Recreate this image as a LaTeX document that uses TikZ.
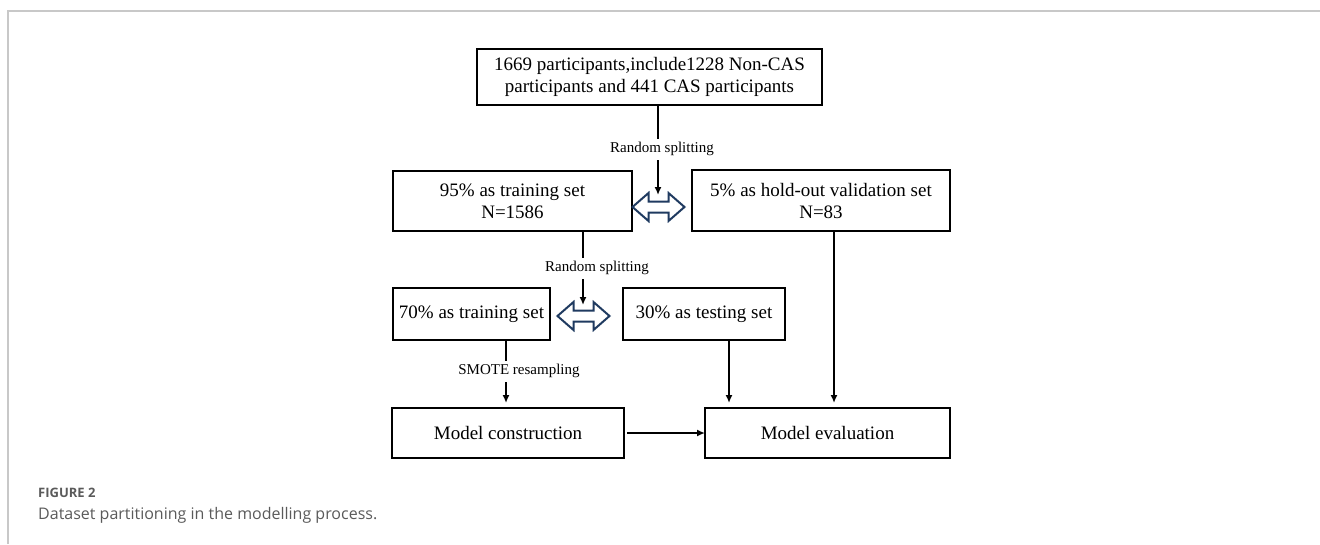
\documentclass[tikz,border=0pt]{standalone}
\usepackage{fontspec}
\setmainfont{Liberation Serif}
\newfontfamily\capfont{Open Sans}
\usetikzlibrary{arrows.meta,calc}
\definecolor{navy}{HTML}{1F3A60}
\definecolor{framegray}{HTML}{C8C8C8}
\definecolor{capgray}{HTML}{5A5A5A}
\tikzset{
  box/.style={draw=black, line width=2pt, inner sep=0pt, outer sep=0pt, align=center,
    font=\fontsize{19}{22}\selectfont},
  conn/.style={line width=1.8pt, -{Latex[length=8pt,width=7pt]}},
  plain/.style={line width=1.8pt},
  lbl/.style={fill=white, inner sep=3pt, text height=11pt, text depth=4pt,
    font=\fontsize{15}{18}\selectfont},
  dbl/.style={draw=navy, fill=white, line width=2pt, line join=miter},
}
\begin{document}
\begin{tikzpicture}[x=1pt,y=-1pt]
\useasboundingbox (0,0) rectangle (1320,544);
% frame
\draw[framegray, line width=1.5pt] (8,544) -- (8,11) -- (1320,11);
% boxes
\node[box, minimum width=345pt, minimum height=56pt] (top) at (649.5,77)
  {1669 participants,include1228 Non-CAS\\participants and 441 CAS participants};
\node[box, minimum width=239pt, minimum height=60pt] (tr95) at (512.5,201)
  {95\% as training set\\N=1586};
\node[box, minimum width=258pt, minimum height=61pt] (hold) at (821,200.5)
  {5\% as hold-out validation set\\N=83};
\node[box, minimum width=157pt, minimum height=52pt] (tr70) at (471.5,314)
  {70\% as training set};
\node[box, minimum width=162pt, minimum height=52pt] (test) at (704,314)
  {30\% as testing set};
\node[box, minimum width=232pt, minimum height=50pt] (mc) at (508,433)
  {Model construction};
\node[box, minimum width=245pt, minimum height=50pt] (me) at (827.5,433)
  {Model evaluation};
% double arrows
\coordinate (d1) at (658.5,207);
\coordinate (d2) at (583.5,316);
\foreach \d in {d1,d2}{
  \draw[dbl, shift={(\d)}] (-26,0) -- (-10,-14) -- (-10,-5.5) -- (10,-5.5) -- (10,-14)
    -- (26,0) -- (10,14) -- (10,5.5) -- (-10,5.5) -- (-10,14) -- cycle;
}
\coordinate (t1) at (658,195);
\coordinate (t2) at (583,305);
% connectors
\draw[conn] (top.south -| t1) -- (t1);
\node[lbl] (l1) at (662,149) {Random splitting};
\draw[conn] (tr95.south -| t2) -- (t2);
\node[lbl] (l2) at (597,268) {Random splitting};
\coordinate (s1) at (506,403);
\draw[conn] (tr70.south -| s1) -- (s1);
\node[lbl] (l3) at (519,371) {SMOTE resampling};
\coordinate (s2) at (729,403);
\draw[conn] (test.south -| s2) -- (s2);
\coordinate (s3) at (834,403);
\draw[conn] (hold.south -| s3) -- (s3);
\draw[conn] ([xshift=3pt]mc.east) -- (me.west);
% caption
\node[anchor=base west, inner sep=0pt, text=capgray, font=\capfont\fontsize{13}{15}\selectfont\bfseries] (fig) at (38,497) {FIGURE 2};
\node[anchor=base west, inner sep=0pt, text=capgray, font=\capfont\fontsize{16}{19}\selectfont] (cap) at (38,519) {Dataset partitioning in the modelling process.};
\end{tikzpicture}
\end{document}
